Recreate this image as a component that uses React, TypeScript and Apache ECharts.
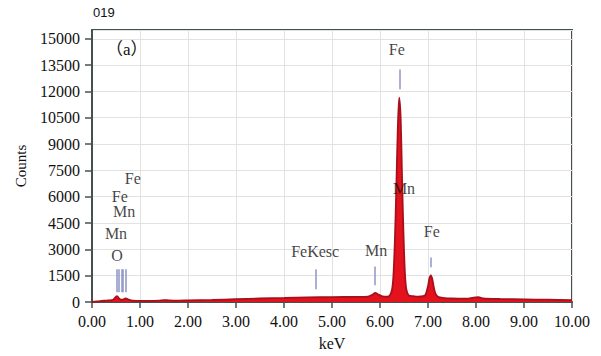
import React, { useEffect, useRef } from "react";
import * as echarts from "echarts";

const energy = [
  0.0, 0.1, 0.2, 0.3, 0.4, 0.45, 0.52, 0.58, 0.64, 0.7, 0.76, 0.85, 1.0, 1.2, 1.4, 1.5, 1.6, 1.8,
  2.0, 2.5, 3.0, 3.5, 4.0, 4.5, 5.0, 5.5, 5.75, 5.85, 5.9, 5.97, 6.05, 6.15, 6.2, 6.25, 6.28, 6.31,
  6.34, 6.37, 6.4, 6.43, 6.46, 6.49, 6.52, 6.55, 6.6, 6.7, 6.8, 6.9, 6.95, 7.0, 7.03, 7.06, 7.09,
  7.12, 7.16, 7.22, 7.3, 7.5, 7.8, 7.95, 8.05, 8.15, 8.5, 9.0, 9.5, 10.0,
];
const counts = [
  0, 40, 60, 80, 100, 150, 330, 160, 130, 210, 140, 80, 60, 60, 80, 110, 90, 80,
  90, 120, 160, 200, 230, 260, 280, 290, 310, 430, 520, 420, 320, 300, 350, 700, 1500, 3500,
  6500, 9800, 11650, 10500, 7000, 3800, 1600, 700, 380, 330, 300, 330, 420, 900, 1350, 1520, 1300,
  850, 450, 280, 240, 200, 190, 250, 270, 200, 170, 150, 130, 110,
];

const yTicks = [0, 1500, 3000, 4500, 6000, 7500, 9000, 10500, 12000, 13500, 15000];

const labelNames = ["Fe", "Mn", "Fe", "Mn", "FeKesc", "O", "Mn", "Mn", "Fe", "Fe"];
const labelX = [6.35, 6.5, 7.08, 5.92, 4.65, 0.52, 0.5, 0.67, 0.58, 0.85];
const labelY = [14380, 6485, 4000, 2930, 2875, 2650, 3890, 5130, 6030, 7050];

const markerX = [6.42, 7.06, 5.9, 4.66, 0.52, 0.56, 0.62, 0.65, 0.71];
const markerTop = [13250, 2540, 2030, 1860, 1860, 1860, 1860, 1860, 1860];
const markerBottom = [12120, 1975, 960, 730, 560, 560, 560, 560, 560];

const serif = "Liberation Serif";

export default function App() {
  const ref = useRef<HTMLDivElement>(null);
  useEffect(() => {
    document.body.style.margin = "0";
    if (!ref.current) return;
    const chart = echarts.init(ref.current, null, { renderer: "svg" });
    const spectrum = energy.map((e, i) => [e, counts[i]]);
    const labels = labelNames.map((n, i) => ({ name: n, value: [labelX[i], labelY[i]] }));
    const markers = markerX.map((x, i) => [
      { coord: [x, markerTop[i]] },
      { coord: [x, markerBottom[i]] },
    ]);
    chart.setOption({
      animation: false,
      backgroundColor: "#ffffff",
      textStyle: { fontFamily: serif },
      grid: {
        left: 92,
        right: 29,
        top: 30,
        bottom: 51,
        show: true,
        borderColor: "#44524f",
        borderWidth: 2,
        backgroundColor: "transparent",
      },
      graphic: [
        {
          type: "text",
          left: 93,
          top: 6,
          style: { text: "019", fontFamily: "Liberation Sans", fontSize: 13, fill: "#111" },
        },
        {
          type: "text",
          left: 106,
          top: 41,
          style: {
            text: "（a）",
            fontFamily: "Liberation Serif, Noto Sans CJK SC",
            fontSize: 17,
            fill: "#111",
          },
        },
      ],
      xAxis: {
        type: "value",
        min: 0,
        max: 10,
        interval: 1,
        name: "keV",
        nameLocation: "middle",
        nameGap: 33,
        nameTextStyle: { fontFamily: serif, fontSize: 16, color: "#111" },
        axisLine: { show: true, lineStyle: { color: "#44524f", width: 2 } },
        axisTick: { show: true, length: 6, lineStyle: { color: "#44524f", width: 1.5 } },
        axisLabel: {
          fontFamily: serif,
          fontSize: 16,
          color: "#111",
          margin: 11,
          formatter: (v: number) => v.toFixed(2),
        },
        splitLine: { show: true, lineStyle: { color: "#e2e2e2", width: 1 } },
      },
      yAxis: {
        type: "value",
        min: 0,
        max: 15500,
        interval: 1500,
        name: "Counts",
        nameLocation: "middle",
        nameGap: 64,
        nameTextStyle: { fontFamily: serif, fontSize: 15, color: "#111" },
        axisLine: { show: true, lineStyle: { color: "#44524f", width: 2 } },
        axisTick: { show: true, length: 7, lineStyle: { color: "#44524f", width: 1.5 } },
        axisLabel: {
          fontFamily: serif,
          fontSize: 16,
          color: "#111",
          margin: 12,
          showMaxLabel: false,
          formatter: (v: number) => (yTicks.includes(v) ? String(v) : ""),
        },
        splitLine: { show: true, lineStyle: { color: "#e2e2e2", width: 1 } },
      },
      series: [
        {
          type: "line",
          data: spectrum,
          showSymbol: false,
          smooth: 0.3,
          lineStyle: { color: "#a8101c", width: 1.8 },
          areaStyle: { color: "#e3121c", opacity: 1 },
          markLine: {
            silent: true,
            symbol: "none",
            label: { show: false },
            lineStyle: { color: "#8e96c6", width: 1.5, type: "solid" },
            data: markers,
          },
          z: 2,
        },
        {
          type: "scatter",
          data: labels,
          symbolSize: 0,
          label: {
            show: true,
            position: "inside",
            formatter: (p: any) => p.name,
            fontFamily: serif,
            fontSize: 16,
            color: "#111",
          },
          z: 5,
        },
      ],
    });
    return () => chart.dispose();
  }, []);
  return <div ref={ref} style={{ width: 601, height: 356 }} />;
}
